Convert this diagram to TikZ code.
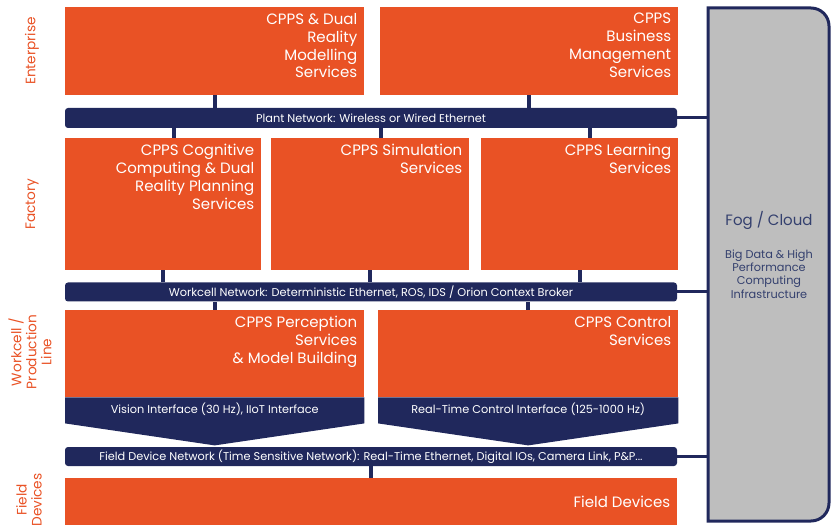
\documentclass[tikz,border=0pt]{standalone}
\usepackage{fontspec}
\setmainfont{Poppins}
\definecolor{orng}{RGB}{233,82,37}
\definecolor{navy}{RGB}{32,40,92}
\definecolor{fogg}{RGB}{190,190,190}
\definecolor{fogt}{RGB}{52,64,110}
\begin{document}
\begin{tikzpicture}[x=1pt,y=-1pt,
  box/.style={fill=orng, anchor=north west, inner sep=0pt},
  boxtxt/.style={text=white, align=right, anchor=north east, inner sep=0pt, font=\fontsize{15}{17.9}\selectfont},
  bus/.style={fill=navy, rounded corners=3pt, minimum height=19pt, minimum width=612pt, inner sep=0pt, text=white, font=\fontsize{11.3}{12}\selectfont},
  iftxt/.style={text=white, inner sep=0pt, font=\fontsize{11.3}{12}\selectfont},
  link/.style={draw=navy, line width=4pt},
  cloudlink/.style={draw=navy, line width=3pt},
  side/.style={text=orng, rotate=90, align=center, font=\fontsize{13.7}{15}\selectfont},
  fogtxt/.style={text=fogt, align=center, font=\fontsize{11.3}{13.4}\selectfont}]
\useasboundingbox (0,0) rectangle (832,526);
\node[box, minimum width=299pt, minimum height=88pt] (ent1) at (65,7) {};
\node[box, minimum width=298pt, minimum height=88pt] (ent2) at (380,7) {};
\node[bus, minimum height=20pt] (plant) at (371,118) {Plant Network: Wireless or Wired Ethernet};
\node[box, minimum width=196pt, minimum height=132pt] (fac1) at (65,138) {};
\node[box, minimum width=198pt, minimum height=132pt] (fac2) at (271,138) {};
\node[box, minimum width=197pt, minimum height=132pt] (fac3) at (481,138) {};
\node[bus] (wcnet) at (371,292) {Workcell Network: Deterministic Ethernet, ROS, IDS / Orion Context Broker};
\node[box, minimum width=299pt, minimum height=87pt] (wc1) at (65,310) {};
\node[box, minimum width=300pt, minimum height=87pt] (wc2) at (378,310) {};
\node[bus] (fdnet) at (371,456.5) {Field Device Network (Time Sensitive Network): Real-Time Ethernet, Digital IOs, Camera Link, P\&P...};
\node[box, minimum width=612pt, minimum height=47pt] (fd) at (65,478) {};
\node[boxtxt] (ent1t) at ([xshift=-7pt,yshift=-6pt]ent1.north east) {CPPS \& Dual\\Reality\\Modelling\\Services};
\node[boxtxt] (ent2t) at ([xshift=-7pt,yshift=-6pt]ent2.north east) {CPPS\\Business\\Management\\Services};
\node[boxtxt] (fac1t) at ([xshift=-7pt,yshift=-6pt]fac1.north east) {CPPS Cognitive\\Computing \& Dual\\Reality Planning\\Services};
\node[boxtxt] (fac2t) at ([xshift=-7pt,yshift=-6pt]fac2.north east) {CPPS Simulation\\Services};
\node[boxtxt] (fac3t) at ([xshift=-7pt,yshift=-6pt]fac3.north east) {CPPS Learning\\Services};
\node[boxtxt] (wc1t) at ([xshift=-7pt,yshift=-6pt]wc1.north east) {CPPS Perception\\Services\\\& Model Building};
\node[boxtxt] (wc2t) at ([xshift=-7pt,yshift=-6pt]wc2.north east) {CPPS Control\\Services};
\node[boxtxt, anchor=east] (fdt) at ([xshift=-7pt]fd.east) {Field Devices};
\fill[navy] (wc1.south west) -- (wc1.south east) -- ++(0,26) -- ([yshift=-48pt]wc1.south) -- ([yshift=-26pt]wc1.south west) -- cycle;
\fill[navy] (wc2.south west) -- (wc2.south east) -- ++(0,26) -- ([yshift=-48pt]wc2.south) -- ([yshift=-26pt]wc2.south west) -- cycle;
\node[iftxt] (wc1if) at ([yshift=-12pt]wc1.south) {Vision Interface (30 Hz), IIoT Interface};
\node[iftxt] (wc2if) at ([yshift=-12pt]wc2.south) {Real-Time Control Interface (125-1000 Hz)};
\path[link] (ent1.south) -- (ent1.south |- plant.north);
\path[link] (ent2.south) -- (ent2.south |- plant.north);
\path[link] ([xshift=11pt]fac1.north) -- ([xshift=11pt]fac1.north |- plant.south);
\path[link] ([xshift=11pt]fac2.north) -- ([xshift=11pt]fac2.north |- plant.south);
\path[link] ([xshift=10pt]fac3.north) -- ([xshift=10pt]fac3.north |- plant.south);
\path[link] (fac1.south) -- (fac1.south |- wcnet.north);
\path[link] (fac2.south) -- (fac2.south |- wcnet.north);
\path[link] (fac3.south) -- (fac3.south |- wcnet.north);
\path[link] (wc1.north) -- (wc1.north |- wcnet.south);
\path[link] (wc2.north) -- (wc2.north |- wcnet.south);
\path[link] (fd.north) -- (fd.north |- fdnet.south);
\path[fill=fogg, draw=navy, line width=3pt] (708,8) -- (811,8) arc[start angle=-90, end angle=0, radius=18] -- (829,503) arc[start angle=0, end angle=90, radius=18] -- (708,521) -- cycle;
\coordinate (fogw) at (708,264);
\path[cloudlink] (plant.east) -- (plant.east -| fogw);
\path[cloudlink] (wcnet.east) -- (wcnet.east -| fogw);
\path[cloudlink] (fdnet.east) -- (fdnet.east -| fogw);
\node[fogtxt, font=\fontsize{15}{17}\selectfont] (fogtitle) at (769,220) {Fog / Cloud};
\node[fogtxt] (fogsub) at (769,274) {Big Data \& High\\Performance\\Computing\\Infrastructure};
\node[side] (lent) at (32,51) {Enterprise};
\node[side] (lfac) at (32,204) {Factory};
\node[side] (lwc) at (30,352) {Workcell /\\Production\\Line};
\node[side] (lfd) at (29,500) {Field\\Devices};
\end{tikzpicture}
\end{document}
